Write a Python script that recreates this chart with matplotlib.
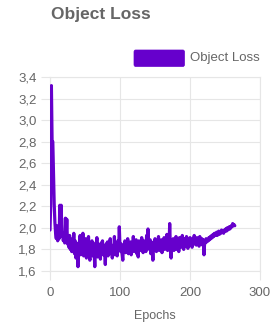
import matplotlib
matplotlib.use("Agg")
import matplotlib.pyplot as plt
from matplotlib.patches import FancyBboxPatch
from matplotlib.ticker import FuncFormatter

title = "Object Loss"
series_label = "Object Loss"
x_label = "Epochs"
x_ticks = [0, 100, 200, 300]
y_ticks = [1.6, 1.8, 2.0, 2.2, 2.4, 2.6, 2.8, 3.0, 3.2, 3.4]

loss = [
    1.98, 2.22, 3.32, 2.80, 2.80, 2.51, 2.22, 2.05, 1.95, 1.90,
    2.02, 1.88, 1.95, 1.90, 2.21, 2.00, 2.21, 1.92, 1.95, 1.88,
    1.93, 1.86, 2.09, 1.90, 2.08, 1.85, 1.90, 1.82, 1.93, 1.80,
    1.84, 1.78, 1.90, 1.80, 1.95, 1.76, 1.88, 1.72, 1.86, 1.79,
    1.64, 1.85, 1.80, 1.93, 1.75, 1.88, 1.78, 1.95, 1.74, 1.86,
    1.80, 1.90, 1.72, 1.84, 1.79, 1.92, 1.76, 1.70, 1.85, 1.81,
    1.88, 1.74, 1.83, 1.78, 1.64, 1.86, 1.80, 1.91, 1.73, 1.85,
    1.77, 1.84, 1.71, 1.86, 1.79, 1.88, 1.75, 1.83, 1.80, 1.66,
    1.85, 1.78, 1.87, 1.74, 1.82, 1.79, 1.90, 1.76, 1.84, 1.72,
    1.83, 1.78, 1.92, 1.75, 1.86, 1.80, 1.74, 1.88, 1.79, 2.01,
    1.82, 1.78, 1.85, 1.76, 1.70, 1.84, 1.80, 1.88, 1.77, 1.83,
    1.79, 1.90, 1.76, 1.85, 1.81, 1.87, 1.75, 1.84, 1.80, 1.92,
    1.78, 1.86, 1.82, 1.89, 1.76, 1.85, 1.73, 1.88, 1.80, 1.86,
    1.79, 1.91, 1.83, 1.77, 1.88, 1.82, 1.86, 1.78, 1.93, 1.81,
    1.99, 1.84, 1.80, 1.89, 1.76, 1.86, 1.82, 1.70, 1.87, 1.80,
    1.90, 1.83, 1.78, 1.88, 1.84, 1.92, 1.79, 1.86, 1.81, 1.89,
    1.77, 1.87, 1.83, 1.91, 1.80, 1.88, 1.84, 1.94, 1.79, 1.87,
    1.82, 2.04, 1.80, 1.72, 1.88, 1.84, 1.90, 1.79, 1.87, 1.83,
    1.92, 1.80, 1.88, 1.85, 1.78, 1.91, 1.84, 1.89, 1.82, 1.93,
    1.85, 1.80, 1.90, 1.86, 1.83, 1.92, 1.87, 1.81, 1.89, 1.86,
    1.91, 1.84, 1.88, 1.82, 1.90, 1.87, 1.93, 1.85, 1.89, 1.84,
    1.91, 1.86, 1.88, 1.83, 1.92, 1.87, 1.85, 1.90, 1.84, 1.89,
    1.75, 1.88, 1.86, 1.90, 1.87, 1.89, 1.88, 1.91, 1.89, 1.92,
    1.90, 1.93, 1.91, 1.94, 1.92, 1.95, 1.93, 1.94, 1.96, 1.93,
    1.95, 1.97, 1.94, 1.96, 1.95, 1.98, 1.96, 1.97, 1.95, 1.98,
    1.97, 1.99, 1.97, 2.00, 1.98, 1.99, 2.01, 1.99, 2.00, 2.02,
    2.01, 2.04, 2.02, 2.03, 2.02,
]
epochs = list(range(len(loss)))

LINE_COLOR = "#6600cc"
TEXT_COLOR = "#666666"
GRID_COLOR = "#e6e6e6"
FONT = "Liberation Sans"

W, H = 277, 326
fig = plt.figure(figsize=(W / 100, H / 100), dpi=100)
ax = fig.add_axes([50 / W, 1 - 271 / H, 210 / W, 194 / H])

ax.plot(epochs, loss, color=LINE_COLOR, linewidth=2.3, solid_joinstyle="round",
        solid_capstyle="round", label=series_label, zorder=3)

ax.set_xlim(0, 300)
ax.set_ylim(1.6, 3.4)
ax.set_xticks(x_ticks)
ax.set_yticks(y_ticks)
ax.yaxis.set_major_formatter(FuncFormatter(lambda v, p: f"{v:.1f}".replace(".", ",")))
ax.xaxis.set_major_formatter(FuncFormatter(lambda v, p: f"{int(v)}"))
ax.grid(True, color=GRID_COLOR, linewidth=0.8, zorder=0)
ax.set_axisbelow(True)
for s in ax.spines.values():
    s.set_color(GRID_COLOR)
    s.set_linewidth(0.8)
ax.tick_params(axis="both", colors=GRID_COLOR, length=6.5, width=0.8,
               labelcolor=TEXT_COLOR, labelsize=9.5)
ax.tick_params(axis="y", pad=3)
ax.tick_params(axis="x", pad=5)
for lab in ax.get_xticklabels() + ax.get_yticklabels():
    lab.set_fontfamily(FONT)

ax.set_xlabel(x_label, fontsize=9, color=TEXT_COLOR, fontfamily=FONT, labelpad=8)

fig.text(51 / W, 1 - 15 / H, title, fontsize=12.5, fontweight="bold",
         color=TEXT_COLOR, fontfamily=FONT, ha="left", va="center")

# legend
box = FancyBboxPatch((134 / W, 1 - 66.5 / H), 50.5 / W, 16.5 / H,
                     boxstyle="round,pad=0,rounding_size=0.006",
                     transform=fig.transFigure, facecolor=LINE_COLOR,
                     edgecolor=LINE_COLOR, linewidth=0.5)
fig.patches.append(box)
fig.text(190.5 / W, 1 - 58 / H, series_label, fontsize=9.5, color=TEXT_COLOR,
         fontfamily=FONT, ha="left", va="center")

fig.savefig("out.png", dpi=100, facecolor="white")
